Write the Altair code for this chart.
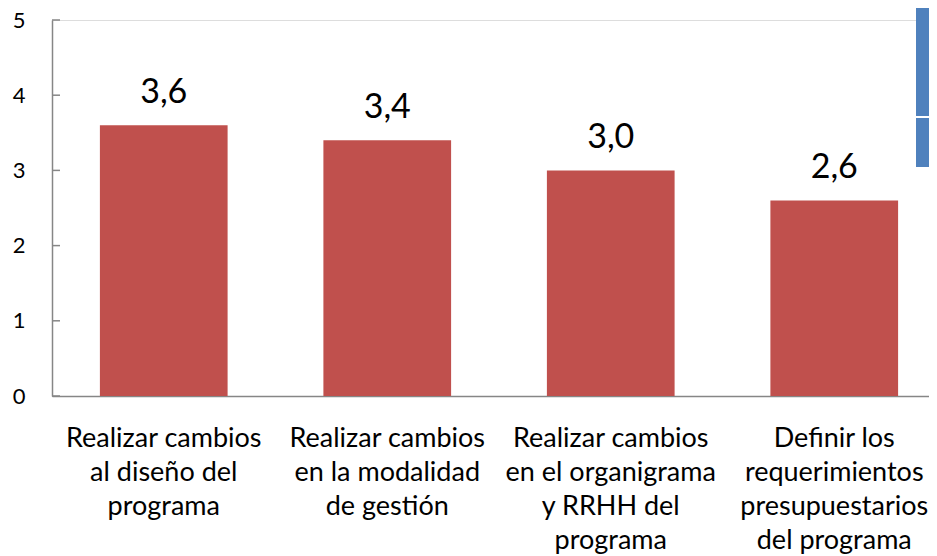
import altair as alt
import pandas as pd

categorias = [
    "Realizar cambios|al diseño del|programa",
    "Realizar cambios|en la modalidad|de gestión",
    "Realizar cambios|en el organigrama|y RRHH del|programa",
    "Definir los|requerimientos|presupuestarios|del programa",
]
valores = [3.6, 3.4, 3.0, 2.6]
y_ticks = [0, 1, 2, 3, 4, 5]

FONT = "Lato"
BAR = "#C0504D"
AXIS = "#868686"

df = pd.DataFrame({"cat": categorias, "v": valores})
df_ticks = pd.DataFrame({"t": y_ticks})
df_deco = pd.DataFrame({"k": [0]})

x_enc = alt.X(
    "cat:N",
    sort=None,
    scale=alt.Scale(range=[0, 894], paddingInner=0.4286, paddingOuter=0.2143),
    axis=alt.Axis(
        title=None,
        labelAngle=0,
        labelExpr="split(datum.label, '|')",
        labelFont=FONT,
        labelFontSize=27,
        labelColor="#000000",
        labelLineHeight=34,
        labelPadding=29,
        labelBaseline="top",
        labelLimit=400,
        ticks=False,
        domainColor=AXIS,
        domainWidth=1.5,
        grid=False,
    ),
)

y_scale = alt.Scale(domain=[0, 5], nice=False)

bars = alt.Chart(df).mark_bar(color=BAR).encode(
    x=x_enc,
    y=alt.Y(
        "v:Q",
        scale=y_scale,
        axis=alt.Axis(
            title=None,
            values=y_ticks,
            format="d",
            ticks=False,
            labelFont=FONT,
            labelFontSize=22,
            labelColor="#000000",
            labelPadding=27,
            domainColor=AXIS,
            domainWidth=1.5,
            grid=False,
        ),
    ),
)

text = alt.Chart(df).transform_calculate(
    lab="replace(format(datum.v, '.1f'), '.', ',')"
).mark_text(font=FONT, fontSize=34, color="#000000", dy=-22, baseline="alphabetic").encode(
    x=alt.X("cat:N", sort=None),
    y=alt.Y("v:Q"),
    text="lab:N",
)

ticks = alt.Chart(df_ticks).mark_rule(color=AXIS, strokeWidth=1.5).encode(
    y=alt.Y("t:Q", scale=y_scale),
    x=alt.value(0),
    x2=alt.value(8),
)

deco1 = alt.Chart(df_deco).mark_rect(color="#4F81BD").encode(
    x=alt.value(864), x2=alt.value(877), y=alt.value(-12), y2=alt.value(96)
)
deco2 = alt.Chart(df_deco).mark_rect(color="#4F81BD").encode(
    x=alt.value(864), x2=alt.value(877), y=alt.value(98), y2=alt.value(147)
)

chart = alt.layer(bars, text, ticks, deco1, deco2).properties(
    width=877,
    height=376,
    autosize=alt.AutoSizeParams(type="none"),
    padding={"left": 44, "top": 12, "right": 0, "bottom": 160},
).configure_view(stroke=None).configure(background="white")

chart.save("out.html", embed_options={"renderer": "svg", "actions": False})
